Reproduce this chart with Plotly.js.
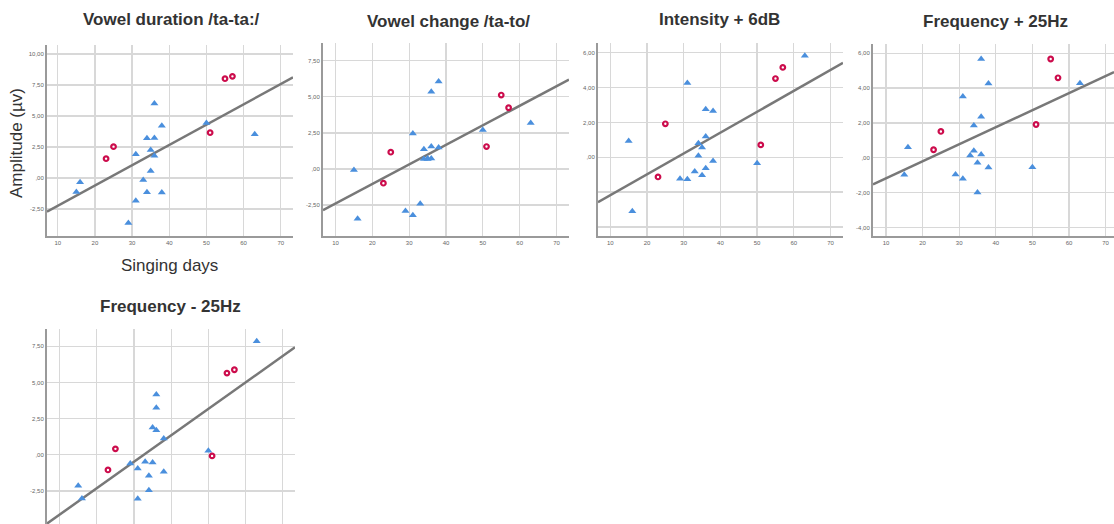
<!DOCTYPE html>
<html>
<head>
<meta charset="utf-8">
<script src="https://cdn.plot.ly/plotly-3.0.1.min.js"></script>
<style>html,body{margin:0;padding:0;background:#fff;}#chart{width:1114px;height:524px;}</style>
</head>
<body>
<div id="chart"></div>
<script>
// ---- data ----
var panelTitles = ['Vowel duration /ta-ta:/', 'Vowel change /ta-to/', 'Intensity + 6dB', 'Frequency + 25Hz', 'Frequency - 25Hz'];
var xAxisLabel = 'Singing days';
var yAxisLabel = 'Amplitude (µv)';

var daysBlue = [15, 16, 29, 31, 31, 33, 34, 34, 35, 35, 36, 36, 36, 38, 38, 50, 63];
var daysRed = [23, 25, 51, 55, 57];

var ampBlue1 = [-1.13, -0.35, -3.63, -1.83, 1.91, -0.16, 3.20, -1.16, 2.26, 0.56, 6.02, 3.23, 1.80, 4.22, -1.18, 4.44, 3.52];
var ampRed1 = [1.56, 2.53, 3.66, 8.01, 8.20];
var ampBlue2 = [-0.07, -3.45, -2.92, 2.45, -3.22, -2.41, 1.37, 0.69, 0.69, 0.72, 0.72, 1.55, 5.35, 6.06, 1.48, 2.69, 3.19];
var ampRed2 = [-0.99, 1.16, 1.55, 5.12, 4.24];
var ampBlue3 = [0.94, -3.10, -1.23, 4.27, -1.26, -0.82, 0.81, 0.08, 0.56, -1.03, 2.76, 1.19, -0.63, 2.65, -0.21, -0.34, 5.83];
var ampRed3 = [-1.13, 1.92, 0.71, 4.52, 5.16];
var ampBlue4 = [-0.98, 0.61, -0.96, 3.51, -1.21, 0.13, 1.85, 0.40, -0.29, -1.99, 5.67, 2.35, 0.19, 4.26, -0.56, -0.54, 4.28];
var ampRed4 = [0.46, 1.51, 1.91, 5.67, 4.59];
var ampBlue5 = [-2.15, -3.03, -0.61, -0.95, -3.05, -0.49, -1.46, -2.45, 1.89, -0.54, 4.17, 3.25, 1.70, 1.13, -1.18, 0.27, 7.85];
var ampRed5 = [-1.05, 0.41, -0.08, 5.65, 5.88];

var xTickVals = [10, 20, 30, 40, 50, 60, 70];
var xTickText = ['10', '20', '30', '40', '50', '60', '70'];
var yTickVals1 = [-2.5, 0, 2.5, 5, 7.5, 10];
var yTickText1 = ['-2,50', ',00', '2,50', '5,00', '7,50', '10,00'];
var yTickVals2 = [-2.5, 0, 2.5, 5, 7.5];
var yTickText2 = ['-2,50', ',00', '2,50', '5,00', '7,50'];
var yTickVals3 = [-4, -2, 0, 2, 4, 6];
var yTickText3 = ['', '', ',00', '2,00', '4,00', '6,00'];
var yTickVals4 = [-4, -2, 0, 2, 4, 6];
var yTickText4 = ['-4,00', '-2,00', ',00', '2,00', '4,00', '6,00'];
var yTickVals5 = [-2.5, 0, 2.5, 5, 7.5];
var yTickText5 = ['-2,50', ',00', '2,50', '5,00', '7,50'];

// ---- layout geometry (pixels) ----
var W = 1114, H = 524;
var panels = [
  {blue: ampBlue1, red: ampRed1, yt: yTickVals1, ytt: yTickText1, px: [47, 293], py: [45, 236], xr: [7.1, 73.3], yr: [-4.68, 10.73], title: [171.7, 20], xlab: true},
  {blue: ampBlue2, red: ampRed2, yt: yTickVals2, ytt: yTickText2, px: [323, 569], py: [43, 236], xr: [6.6, 73.4], yr: [-4.65, 8.73], title: [448, 21.5], xlab: true},
  {blue: ampBlue3, red: ampRed3, yt: yTickVals3, ytt: yTickText3, px: [598, 843], py: [43, 236], xr: [6.65, 73.4], yr: [-4.52, 6.56], title: [719.7, 20], xlab: true},
  {blue: ampBlue4, red: ampRed4, yt: yTickVals4, ytt: yTickText4, px: [873, 1114], py: [44, 236], xr: [6.45, 72.3], yr: [-4.49, 6.53], title: [995.8, 21.5], xlab: true},
  {blue: ampBlue5, red: ampRed5, yt: yTickVals5, ytt: yTickText5, px: [47, 295], py: [329, 524], xr: [6.6, 73.3], yr: [-4.79, 8.7], title: [170.5, 306.7], xlab: false}
];

function fit(xs, ys) {
  var n = xs.length, mx = 0, my = 0, sxx = 0, sxy = 0, i;
  for (i = 0; i < n; i++) { mx += xs[i]; my += ys[i]; }
  mx /= n; my /= n;
  for (i = 0; i < n; i++) { sxx += (xs[i] - mx) * (xs[i] - mx); sxy += (xs[i] - mx) * (ys[i] - my); }
  var b = sxy / sxx;
  return {b: b, a: my - b * mx};
}

var traces = [];
var layout = {
  width: W, height: H,
  margin: {l: 0, r: 0, t: 0, b: 0},
  paper_bgcolor: '#ffffff', plot_bgcolor: '#ffffff',
  showlegend: false,
  annotations: []
};
var tickFont = {family: 'Liberation Sans, Arial, sans-serif', size: 6, color: '#666666'};
var labelFont = {family: 'Liberation Sans, Arial, sans-serif', size: 17, color: '#333333'};

panels.forEach(function (p, k) {
  var idx = k + 1;
  var xa = 'x' + (idx === 1 ? '' : idx), ya = 'y' + (idx === 1 ? '' : idx);
  var allX = daysBlue.concat(daysRed), allY = p.blue.concat(p.red);
  var f = fit(allX, allY);
  traces.push({
    type: 'scatter', mode: 'lines', xaxis: xa, yaxis: ya,
    x: [p.xr[0], p.xr[1]], y: [f.a + f.b * p.xr[0], f.a + f.b * p.xr[1]],
    line: {color: '#787878', width: 2.5}, hoverinfo: 'skip', cliponaxis: true
  });
  traces.push({
    type: 'scatter', mode: 'markers', xaxis: xa, yaxis: ya,
    x: daysBlue, y: p.blue,
    marker: {symbol: 'triangle-up', size: 7, color: '#4a8fdd', line: {width: 0}}
  });
  traces.push({
    type: 'scatter', mode: 'markers', xaxis: xa, yaxis: ya,
    x: daysRed, y: p.red,
    marker: {symbol: 'circle', size: 4.6, color: '#ffffff', line: {width: 2.2, color: '#cc0c4c'}}
  });
  var xkey = 'xaxis' + (idx === 1 ? '' : idx), ykey = 'yaxis' + (idx === 1 ? '' : idx);
  layout[xkey] = {
    domain: [p.px[0] / W, p.px[1] / W], anchor: ya, range: p.xr,
    tickvals: xTickVals, ticktext: xTickText, showticklabels: p.xlab,
    tickfont: tickFont, ticks: '', showgrid: true, gridcolor: '#d8d8d8', gridwidth: 1.3,
    zeroline: false, showline: p.xlab, linecolor: '#9a9a9a', linewidth: 2, fixedrange: true
  };
  layout[ykey] = {
    domain: [(H - p.py[1]) / H, (H - p.py[0]) / H], anchor: xa, range: p.yr,
    tickvals: p.yt, ticktext: p.ytt, tickfont: tickFont, ticks: '',
    showgrid: true, gridcolor: '#d8d8d8', gridwidth: 1.3,
    zeroline: false, showline: true, linecolor: '#9a9a9a', linewidth: 2, fixedrange: true
  };
  layout.annotations.push({
    xref: 'paper', yref: 'paper', x: p.title[0] / W, y: 1 - p.title[1] / H,
    xanchor: 'center', yanchor: 'middle', showarrow: false,
    text: '<b>' + panelTitles[k] + '</b>',
    font: labelFont
  });
});

layout.annotations.push({
  xref: 'paper', yref: 'paper', x: 17 / W, y: 1 - 143 / H,
  xanchor: 'center', yanchor: 'middle', showarrow: false, textangle: -90,
  text: yAxisLabel, font: labelFont
});
layout.annotations.push({
  xref: 'paper', yref: 'paper', x: 169 / W, y: 1 - 265 / H,
  xanchor: 'center', yanchor: 'middle', showarrow: false,
  text: xAxisLabel, font: labelFont
});

Plotly.newPlot('chart', traces, layout, {displayModeBar: false, staticPlot: true});
</script>
</body>
</html>
